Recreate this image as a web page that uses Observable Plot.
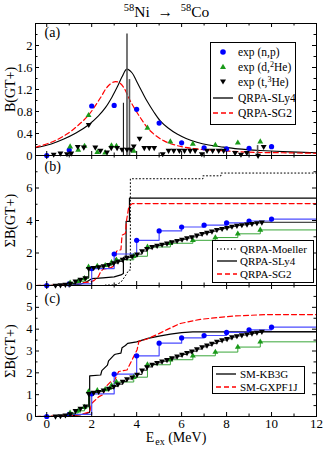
<!DOCTYPE html>
<html><head><meta charset="utf-8">
<script src="https://cdn.jsdelivr.net/npm/d3@7"></script>
<script src="https://cdn.jsdelivr.net/npm/@observablehq/plot@0.6"></script>
<style>
html,body{margin:0;padding:0;background:#fff;}
#wrap{position:relative;width:324px;height:449px;overflow:hidden;font-family:"Liberation Serif","Times New Roman",serif;color:#000;}
#wrap svg.panel{position:absolute;left:0;}
.title{position:absolute;top:1px;left:0;width:333px;text-align:center;font-size:15.5px;line-height:22px;}
.title sup{font-size:10.5px;vertical-align:0;position:relative;top:-6px;}
.xlab{position:absolute;top:431px;left:0;width:352px;text-align:center;font-size:14px;line-height:14px;}
.xlab sub{font-size:10px;vertical-align:0;position:relative;top:3px;margin-left:1px;line-height:8px;}
.legend{position:absolute;border:1px solid #000;background:#fff;box-sizing:border-box;z-index:5;}
.legend .row{display:flex;align-items:center;white-space:nowrap;}
.legend svg{display:block;flex:none;}
.legend sup{font-size:0.7em;vertical-align:0;position:relative;top:-4px;}
</style></head>
<body><div id="wrap">
<div class="title"><sup>58</sup>Ni &nbsp;→&nbsp; <sup>58</sup>Co</div>
<div class="xlab">E<sub>ex</sub> (MeV)</div>
</div>
<script>
// ---------- axes ----------
const xDomain = [-0.5, 12];
const xMajor = [0, 2, 4, 6, 8, 10, 12];
const xMinor = [1, 3, 5, 7, 9, 11];
const yTicksA = [0, 0.4, 0.8, 1.2, 1.6, 2];
const yMinorA = [0.2, 0.6, 1.0, 1.4, 1.8, 2.2];
const yTicksB = [0, 2, 4, 6];
const yMinorB = [1, 3, 5, 7];
const yTicksC = [0, 1, 2, 3, 4, 5];
const yMinorC = [0.5, 1.5, 2.5, 3.5, 4.5, 5.5];

// ---------- panel (a): B(GT+) ----------
const npE = [0, 1, 2, 3, 4, 5, 6, 7, 8, 9, 10];
const npB = [0.0, 0.10, 0.90, 0.91, 0.84, 0.59, 0.23, 0.14, 0.12, 0.13, 0.16];
const dHeE = [1.04, 1.40, 1.68, 1.86, 2.25, 2.60, 2.88, 3.10, 3.87, 4.48, 5.50, 6.50, 7.50, 8.50, 9.50];
const dHeB = [0.16, 0.10, 0.17, 0.73, 0.06, 0.05, 0.18, 0.17, 0.08, 0.50, 0.25, 0.21, 0.19, 0.23, 0.25];
const tHeE = [0.31, 0.61, 0.90, 1.09, 1.38, 1.65, 1.87, 2.16, 2.39, 2.68, 2.87, 3.13, 3.35, 3.57, 3.75, 3.87, 4.13, 4.34, 4.56, 4.78, 5.16, 5.42, 5.65, 5.90, 6.13, 6.38, 6.60, 6.90, 7.13, 7.38, 7.65, 7.87, 8.38, 8.64, 8.90, 9.40, 9.65];
const tHeB = [0.02, 0.04, 0.03, 0.04, 0.16, 0.15, 0.56, 0.15, 0.09, 0.06, 0.14, 0.14, 0.11, 0.11, 0.11, 0.17, 0.31, 0.14, 0.14, 0.14, 0.03, 0.09, 0.09, 0.09, 0.09, 0.09, 0.09, 0.03, 0.09, 0.09, 0.09, 0.09, 0.05, 0.02, 0.05, 0.0, 0.16];
const sly4E = [-0.5, 0.2, 0.76, 1.3, 1.87, 2.3, 2.61, 2.9, 3.13, 3.35, 3.56, 3.8, 4.02, 4.25, 4.46, 4.75, 5.05, 5.4, 5.8, 6.2, 6.68, 7.2, 7.72, 8.5, 9.5, 10.5, 12];
const sly4B = [0.14, 0.21, 0.30, 0.41, 0.56, 0.72, 0.87, 1.06, 1.24, 1.43, 1.57, 1.50, 1.33, 1.15, 0.99, 0.80, 0.63, 0.50, 0.39, 0.31, 0.24, 0.19, 0.16, 0.12, 0.09, 0.07, 0.05];
const sg2E = [-0.5, 0.2, 0.9, 1.4, 1.87, 2.39, 2.7, 3.0, 3.2, 3.42, 3.72, 4.16, 4.6, 5.2, 5.8, 6.68, 7.72, 9, 10.5, 12];
const sg2B = [0.15, 0.24, 0.39, 0.55, 0.74, 1.05, 1.25, 1.34, 1.33, 1.24, 0.99, 0.69, 0.45, 0.27, 0.18, 0.12, 0.09, 0.06, 0.05, 0.04];
const sly4LineE = [3.41];
const sly4LineB = [0.95];
const sly4BarE = [3.57, 3.68, 9.38];
const sly4BarB = [2.21, 1.38, 0.18];

// ---------- panels (b),(c): running sums ----------
const npSum = [0, 0.10, 1.04, 1.94, 2.78, 3.36, 3.60, 3.71, 3.85, 3.97, 4.09];
const dHeSumE = [1.04, 1.40, 1.68, 1.86, 2.25, 2.60, 2.88, 3.10, 3.87, 4.48, 5.50, 6.50, 7.50, 8.50, 9.50];
const dHeSum = [0.16, 0.26, 0.43, 1.14, 1.19, 1.24, 1.42, 1.58, 1.80, 2.37, 2.60, 2.78, 2.95, 3.18, 3.42];
const tHeSumE = [0.39, 0.61, 0.83, 1.05, 1.28, 1.50, 1.72, 1.87, 2.09, 2.31, 2.53, 2.76, 2.98, 3.17, 3.38, 3.57, 3.80, 4.02, 4.24, 4.46, 4.69, 4.91, 5.13, 5.35, 5.57, 5.80, 6.02, 6.24, 6.46, 6.68, 6.91, 7.13, 7.35, 7.57, 7.80, 8.02, 8.24, 8.46, 8.68, 8.91, 9.13, 9.35, 9.57];
const tHeSum = [0.01, 0.03, 0.06, 0.12, 0.26, 0.37, 0.47, 1.04, 1.10, 1.14, 1.20, 1.28, 1.38, 1.48, 1.60, 1.72, 1.80, 1.93, 2.12, 2.27, 2.38, 2.46, 2.53, 2.60, 2.68, 2.76, 2.84, 2.92, 2.99, 3.09, 3.19, 3.26, 3.34, 3.44, 3.50, 3.56, 3.64, 3.69, 3.73, 3.77, 3.81, 3.85, 3.89];
const moellerE = [-0.5, 2.6, 2.6, 3.0, 3.1, 3.3, 3.5, 3.65, 3.72, 3.72, 6.95, 6.95, 7.75, 7.75, 12];
const moellerS = [0, 0, 0.03, 0.03, 0.06, 0.2, 0.6, 0.95, 0.95, 6.57, 6.57, 6.75, 6.75, 6.92, 6.92];
const sly4SumE = [-0.5, 1.0, 1.5, 1.8, 2.0, 2.5, 3.0, 3.3, 3.41, 3.41, 3.53, 3.53, 3.68, 3.68, 12];
const sly4Sum = [0, 0.02, 0.08, 0.25, 0.42, 0.47, 0.53, 0.65, 0.74, 1.74, 1.74, 3.95, 3.95, 5.38, 5.38];
const sg2SumE = [-0.5, 0.5, 1.0, 1.5, 1.9, 2.1, 2.3, 2.4, 2.5, 2.85, 3.0, 3.05, 3.1, 3.15, 3.3, 3.35, 3.5, 3.55, 3.65, 3.8, 12];
const sg2Sum = [0, 0.02, 0.06, 0.15, 0.22, 0.3, 0.55, 0.85, 1.0, 1.1, 1.2, 1.55, 2.1, 2.15, 2.2, 3.1, 3.2, 4.0, 4.85, 5.04, 5.04];
const kb3gE = [-0.5, 1.0, 1.5, 1.8, 1.91, 1.91, 2.4, 2.45, 2.7, 2.75, 2.98, 3.05, 3.3, 3.35, 3.5, 3.6, 4.0, 4.5, 5.0, 5.5, 6.0, 6.5, 12];
const kb3gSum = [0, 0.02, 0.08, 0.15, 0.2, 1.86, 1.9, 2.1, 2.35, 2.55, 2.8, 2.85, 2.9, 3.15, 3.25, 3.35, 3.42, 3.58, 3.68, 3.77, 3.84, 3.88, 3.88];
const gxpfE = [-0.5, 1.0, 1.5, 1.91, 2.0, 2.31, 2.5, 2.64, 2.85, 3.0, 3.2, 3.57, 3.8, 4.02, 4.1, 4.46, 4.9, 5.35, 5.94, 6.83, 8.3, 9.8, 12];
const gxpfSum = [0, 0.03, 0.08, 0.21, 0.6, 0.9, 1.0, 1.37, 1.6, 1.62, 2.06, 2.13, 2.6, 3.06, 3.44, 3.55, 3.75, 3.98, 4.26, 4.45, 4.6, 4.67, 4.67];

// ---------- helpers ----------
const pts = (xs, ys) => xs.map((x, i) => ({x, y: ys[i]}));
const ext = (xs, ys) => [...pts(xs, ys), {x: xDomain[1], y: ys[ys.length - 1]}];
const triDown = {draw(ctx, size) {
  const y = Math.sqrt(size / (Math.sqrt(3) * 3)), s3 = Math.sqrt(3);
  ctx.moveTo(0, 2 * y); ctx.lineTo(-s3 * y, -y); ctx.lineTo(s3 * y, -y); ctx.closePath();
}};
const BLUE = "#0000ff", LBLUE = "#4b4bff", GREEN = "#1a9a1a", LGREEN = "#3aa63a", RED = "#ff0000";
const FONT = "'Liberation Serif','Times New Roman',serif";
const wrap = document.getElementById("wrap");

function frameTicks(H) {
  const Wf = 324 - 35 - 8, L = 4, l = 2.5;
  return (yMaj, yMin) => [
    Plot.tickX(xMajor, {x: d => d, insetTop: H - L}),
    Plot.tickX(xMajor, {x: d => d, insetBottom: H - L}),
    Plot.tickX(xMinor, {x: d => d, insetTop: H - l}),
    Plot.tickX(xMinor, {x: d => d, insetBottom: H - l}),
    Plot.tickY(yMaj, {y: d => d, insetRight: Wf - L}),
    Plot.tickY(yMaj, {y: d => d, insetLeft: Wf - L}),
    Plot.tickY(yMin, {y: d => d, insetRight: Wf - l}),
    Plot.tickY(yMin, {y: d => d, insetLeft: Wf - l})
  ];
}

function makePanel(o) {
  const H = o.height - o.mt - o.mb;
  const extra = o.xAxis
    ? [Plot.axisX({ticks: xMajor, tickSize: 0, tickPadding: 2, label: null, fontSize: 13, tickFormat: d => String(d)})]
    : [];
  const svg = Plot.plot({
    width: 324, height: o.height,
    marginTop: o.mt, marginBottom: o.mb, marginLeft: 35, marginRight: 8,
    x: o.xAxis ? {domain: xDomain} : {domain: xDomain, axis: null},
    y: {domain: o.yDomain},
    style: {fontFamily: FONT, fontSize: "13px", background: "transparent", overflow: "visible", color: "black"},
    marks: [
      ...o.marks,
      ...frameTicks(H)(o.yMaj, o.yMin),
      Plot.frame({stroke: "black"}),
      Plot.axisY({ticks: o.yMaj, tickSize: 0, tickPadding: 3, label: null, fontSize: 12.5, tickFormat: d => String(d)}),
      ...extra,
      Plot.text([o.ylab], {text: d => d, frameAnchor: "left", dx: -25, rotate: -90, fontSize: 14, textAnchor: "middle", lineAnchor: "middle"}),
      Plot.text([o.tag], {text: d => d, frameAnchor: "top-left", dx: 9, dy: o.tagDy, textAnchor: "start", lineAnchor: "top", fontSize: 14})
    ]
  });
  svg.classList.add("panel");
  svg.style.top = o.top + "px";
  wrap.appendChild(svg);
}

const expMarks = () => [
  Plot.line(ext(npE, npSum), {x: "x", y: "y", curve: "step-after", stroke: LBLUE, strokeWidth: 1.2}),
  Plot.line(ext(dHeSumE, dHeSum), {x: "x", y: "y", curve: "step-after", stroke: LGREEN, strokeWidth: 1}),
  Plot.line(ext(tHeSumE, tHeSum), {x: "x", y: "y", curve: "step-after", stroke: "black", strokeWidth: 0.9}),
  Plot.dot(pts(npE, npSum), {x: "x", y: "y", r: 2.6, fill: BLUE}),
  Plot.dot(pts(dHeSumE, dHeSum), {x: "x", y: "y", r: 2.2, symbol: "triangle", fill: GREEN}),
  Plot.dot(pts(tHeSumE, tHeSum), {x: "x", y: "y", r: 2.2, symbol: triDown, fill: "black"})
];

// (a)
makePanel({
  top: 0, height: 160, mt: 23, mb: 5, yDomain: [0, 2.4], yMaj: yTicksA, yMin: yMinorA,
  ylab: "B(GT+)", tag: "(a)", tagDy: 4,
  marks: [
    Plot.line(pts(sly4E, sly4B), {x: "x", y: "y", curve: "catmull-rom", stroke: "black", strokeWidth: 1.1}),
    Plot.line(pts(sg2E, sg2B), {x: "x", y: "y", curve: "catmull-rom", stroke: RED, strokeWidth: 1.2, strokeDasharray: "5,3"}),
    Plot.ruleX(pts(sly4LineE, sly4LineB), {x: "x", y1: 0, y2: "y", stroke: "black", strokeWidth: 1}),
    Plot.ruleX(pts(sly4BarE, sly4BarB), {x: "x", y1: 0, y2: "y", stroke: "#555", strokeWidth: 1.6}),
    Plot.dot(pts(npE, npB), {x: "x", y: "y", r: 2.6, fill: BLUE}),
    Plot.dot(pts(dHeE, dHeB), {x: "x", y: "y", r: 2.2, symbol: "triangle", fill: GREEN}),
    Plot.dot(pts(tHeE, tHeB), {x: "x", y: "y", r: 2.2, symbol: triDown, fill: "black"})
  ]
});

// (b)
makePanel({
  top: 150, height: 140, mt: 5, mb: 5, yDomain: [0, 8], yMaj: yTicksB, yMin: yMinorB,
  ylab: "ΣB(GT+)", tag: "(b)", tagDy: 6,
  marks: [
    Plot.line(pts(moellerE, moellerS), {x: "x", y: "y", stroke: "black", strokeWidth: 1, strokeDasharray: "1,2.5"}),
    Plot.line(pts(sly4SumE, sly4Sum), {x: "x", y: "y", stroke: "black", strokeWidth: 1.2}),
    Plot.line(pts(sg2SumE, sg2Sum), {x: "x", y: "y", stroke: RED, strokeWidth: 1.2, strokeDasharray: "5,3"}),
    ...expMarks()
  ]
});

// (c)
makePanel({
  top: 280, height: 169, mt: 5, mb: 33, yDomain: [0, 6], yMaj: yTicksC, yMin: yMinorC,
  ylab: "ΣB(GT+)", tag: "(c)", tagDy: 8, xAxis: true,
  marks: [
    Plot.line(pts(kb3gE, kb3gSum), {x: "x", y: "y", stroke: "black", strokeWidth: 1.2}),
    Plot.line(pts(gxpfE, gxpfSum), {x: "x", y: "y", stroke: RED, strokeWidth: 1.2, strokeDasharray: "5,3"}),
    ...expMarks()
  ]
});

// ---------- legends ----------
const sw = {
  circle: c => `<circle cx="11" cy="7" r="2.8" fill="${c}"/>`,
  tri: c => `<path d="M11,3.8 L14,9 L8,9 Z" fill="${c}"/>`,
  triDown: c => `<path d="M11,9.6 L14,4.4 L8,4.4 Z" fill="${c}"/>`,
  line: (c, dash) => `<line x1="1" x2="21" y1="7" y2="7" stroke="${c}" stroke-width="1.3" ${dash ? `stroke-dasharray="${dash}"` : ""}/>`
};
function legend({left, top, width, height, rowH, padTop, padLeft, fontSize, textGap, rows}) {
  const d = document.createElement("div");
  d.className = "legend";
  Object.assign(d.style, {left: left + "px", top: top + "px", width: width + "px", height: height + "px",
    paddingTop: padTop + "px", paddingLeft: padLeft + "px", fontSize: fontSize + "px"});
  d.innerHTML = rows.map(([s, t]) =>
    `<div class="row" style="height:${rowH}px"><svg width="22" height="14">${s}</svg><span style="margin-left:${textGap}px">${t}</span></div>`).join("");
  wrap.appendChild(d);
}
legend({left: 210, top: 42, width: 86, height: 83, rowH: 15.3, padTop: 1, padLeft: 1, fontSize: 11.5, textGap: 4, rows: [
  [sw.circle(BLUE), "exp (n,p)"],
  [sw.tri(GREEN), "exp (d,<sup>2</sup>He)"],
  [sw.triDown("black"), "exp (t,<sup>3</sup>He)"],
  [sw.line("black"), "QRPA-SLy4"],
  [sw.line(RED, "5,3"), "QRPA-SG2"]
]});
legend({left: 212, top: 240, width: 102, height: 43, rowH: 12.5, padTop: 1.5, padLeft: 3, fontSize: 11, textGap: 2, rows: [
  [sw.line("black", "1,2.5"), "QRPA-Moeller"],
  [sw.line("black"), "QRPA-SLy4"],
  [sw.line(RED, "5,3"), "QRPA-SG2"]
]});
legend({left: 212, top: 366, width: 93, height: 28, rowH: 13, padTop: 0, padLeft: 2, fontSize: 11, textGap: 3, rows: [
  [sw.line("black"), "SM-KB3G"],
  [sw.line(RED, "5,3"), "SM-GXPF1J"]
]});
</script>
</body></html>
